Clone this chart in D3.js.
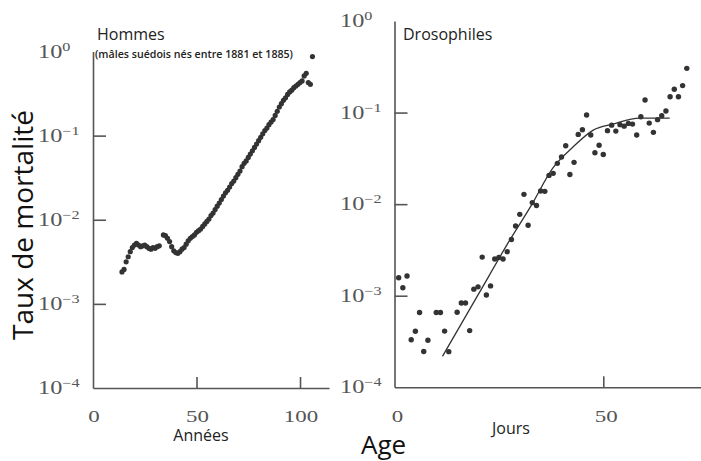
<!DOCTYPE html>
<html>
<head>
<meta charset="utf-8">
<script src="https://cdn.jsdelivr.net/npm/d3@7"></script>
<style>
  body { margin: 0; background: #fff; }
  text { font-family: "Open Sans", "Noto Sans", sans-serif; }
  .num { font-family: "Liberation Serif", "DejaVu Serif", serif; fill: #555; }
</style>
</head>
<body>
<script>
const WIDTH = 701;
const HEIGHT = 461;

// Hommes : âge (années) et taux de mortalité
const hommesAge = [14, 15, 16, 17, 18, 19, 20, 21, 22, 23, 24, 25, 26, 27, 28, 29, 30, 31, 32,
  34, 35, 36, 37, 38, 39, 40, 41, 42, 43, 44, 45, 46, 47, 48, 49, 50, 51, 52, 53, 54, 55,
  56, 57, 58, 59, 60, 61, 62, 63, 64, 65, 66, 67, 68, 69, 70, 71, 72, 73, 74, 75, 76, 77,
  78, 79, 80, 81, 82, 83, 84, 85, 86, 87, 88, 89, 90, 91, 92, 93, 94, 95, 96, 97, 98, 99,
  100, 101, 102, 103, 104, 105, 106];
const hommesTaux = [0.00240, 0.00257, 0.00316, 0.00363, 0.00417, 0.00468, 0.00501, 0.00525,
  0.00501, 0.00479, 0.00490, 0.00501, 0.00479, 0.00457, 0.00447, 0.00468, 0.00457, 0.00479,
  0.00490, 0.00661, 0.00646, 0.00603, 0.00550, 0.00479, 0.00427, 0.00407, 0.00398, 0.00417,
  0.00447, 0.00468, 0.00513, 0.00562, 0.00603, 0.00631, 0.00661, 0.00708, 0.00741, 0.00776,
  0.00832, 0.00891, 0.00955, 0.0102, 0.0112, 0.0120, 0.0132, 0.0145, 0.0158, 0.0174, 0.0191,
  0.0209, 0.0224, 0.0245, 0.0269, 0.0288, 0.0316, 0.0347, 0.0380, 0.0427, 0.0468, 0.0501,
  0.0550, 0.0603, 0.0661, 0.0724, 0.0794, 0.0871, 0.0955, 0.105, 0.115, 0.123, 0.135, 0.145,
  0.155, 0.174, 0.195, 0.219, 0.240, 0.263, 0.282, 0.309, 0.331, 0.347, 0.372, 0.389, 0.407,
  0.427, 0.447, 0.513, 0.550, 0.427, 0.407, 0.871];

// Drosophiles : âge (jours) et taux de mortalité
const drosoAge = [1, 2, 3, 4, 5, 6, 7, 8, 10, 11, 12, 13, 15, 16, 17, 18, 19, 20, 21, 22, 23,
  24, 25, 26, 27, 28, 29, 30, 31, 32, 33, 34, 35, 36, 37, 38, 39, 40, 41, 42, 43, 44, 45, 46,
  47, 48, 49, 50, 51, 52, 53, 54, 55, 56, 57, 58, 59, 60, 61, 62, 63, 64, 65, 66, 67, 68, 69, 70];
const drosoTaux = [1.57e-3, 1.22e-3, 1.64e-3, 3.30e-4, 4.09e-4, 6.55e-4, 2.46e-4, 3.27e-4,
  6.55e-4, 6.55e-4, 4.11e-4, 2.45e-4, 6.60e-4, 8.34e-4, 8.34e-4, 4.16e-4, 1.18e-3, 1.25e-3,
  2.64e-3, 1.02e-3, 1.28e-3, 2.52e-3, 2.61e-3, 2.52e-3, 3.03e-3, 4.11e-3, 5.78e-3, 7.74e-3,
  1.28e-2, 5.89e-3, 1.04e-2, 9.68e-3, 1.39e-2, 1.38e-2, 2.06e-2, 2.17e-2, 2.79e-2, 3.27e-2,
  4.34e-2, 2.11e-2, 2.86e-2, 5.78e-2, 6.49e-2, 9.40e-2, 5.68e-2, 3.64e-2, 4.40e-2, 3.49e-2,
  6.35e-2, 7.29e-2, 6.28e-2, 7.38e-2, 7.11e-2, 7.62e-2, 7.48e-2, 5.68e-2, 8.99e-2, 0.137,
  7.67e-2, 6.08e-2, 8.37e-2, 9.23e-2, 0.104, 0.149, 0.180, 0.149, 0.197, 0.304];

// courbe ajustée (drosophiles)
const ajustAge  = [11.5, 20, 27.6, 32.8, 37.9, 42.8, 47.6, 52.3, 58.7, 65.9];
const ajustTaux = [2.18e-4, 1.02e-3, 4.04e-3, 9.75e-3, 2.47e-2, 4.23e-2, 6.44e-2, 7.48e-2, 8.7e-2, 8.7e-2];

const yTicks = [1, 0.1, 0.01, 0.001, 0.0001];
const yExp = ["0", "\u22121", "\u22122", "\u22123", "\u22124"];
const xTicksH = [0, 50, 100];
const xTicksD = [0, 50];

const svg = d3.select('body').append('svg')
  .attr('width', WIDTH)
  .attr('height', HEIGHT);

const axisColor = '#555';
const dotColor = '#333';

// ---- panneau gauche : Hommes
const xL = d3.scaleLinear().domain([0, 114]).range([93, 329]);
const yL = d3.scaleLog().domain([1e-4, 1]).range([388, 51.5]);

// ---- panneau droit : Drosophiles
const xR = d3.scaleLinear().domain([0, 73.4]).range([394.5, 701]);
const yR = d3.scaleLog().domain([1e-4, 1]).range([387.3, 21]);

function drawAxes(x, y, xTicksDrawn, yTicksDrawn, labelX) {
  let gx = svg.append('g')
    .attr('transform', `translate(0,${y.range()[0]})`)
    .call(d3.axisBottom(x).tickValues(xTicksDrawn).tickSizeInner(-11).tickSizeOuter(0).tickFormat(''));
  let gy = svg.append('g')
    .attr('transform', `translate(${x.range()[0]},0)`)
    .call(d3.axisRight(y).tickValues(yTicksDrawn).tickSizeInner(13).tickSizeOuter(0).tickFormat(''));
  [gx, gy].forEach(g => {
    g.selectAll('path, line').attr('stroke', axisColor).attr('stroke-width', 1.6);
  });

  // étiquettes 10^n (serif, étirées horizontalement comme l'original)
  yTicks.forEach((v, i) => {
    let t = svg.append('text')
      .attr('class', 'num')
      .attr('transform', `translate(${labelX},${y(v) + 6}) scale(1.35,1)`)
      .style('font-size', '18px');
    t.append('tspan').text('10');
    t.append('tspan').attr('dy', -7).style('font-size', '12px').text(yExp[i]);
  });
}

drawAxes(xL, yL, [50, 100], [0.1, 0.01, 0.001], 38);
drawAxes(xR, yR, [50], [0.1, 0.01, 0.001], 340);

// étiquettes de l'axe x
xTicksH.forEach(v => {
  svg.append('text').attr('class', 'num')
    .attr('transform', `translate(${xL(v) + 1},422) scale(1.35,1)`)
    .attr('text-anchor', 'middle').style('font-size', '17px').text(v);
});
xTicksD.forEach(v => {
  svg.append('text').attr('class', 'num')
    .attr('transform', `translate(${xR(v) + 3},422) scale(1.35,1)`)
    .attr('text-anchor', 'middle').style('font-size', '17px').text(v);
});

// points
svg.append('g').selectAll('circle')
  .data(hommesAge)
  .join('circle')
  .attr('cx', (d, i) => xL(d))
  .attr('cy', (d, i) => yL(hommesTaux[i]))
  .attr('r', 2.6)
  .style('fill', dotColor);

svg.append('g').selectAll('circle')
  .data(drosoAge)
  .join('circle')
  .attr('cx', (d, i) => xR(d))
  .attr('cy', (d, i) => yR(drosoTaux[i]))
  .attr('r', 2.7)
  .style('fill', dotColor);

let ligne = d3.line()
  .x((d, i) => xR(d))
  .y((d, i) => yR(ajustTaux[i]))
  .curve(d3.curveMonotoneX);

svg.append('path')
  .attr('d', ligne(ajustAge))
  .attr('fill', 'none')
  .attr('stroke', '#333')
  .attr('stroke-width', 1.3);

// titres
svg.append('text').attr('x', 97).attr('y', 40)
  .style('font-size', '16px').style('fill', '#222').text('Hommes');
svg.append('text').attr('x', 95).attr('y', 58)
  .attr('textLength', 198).attr('lengthAdjust', 'spacingAndGlyphs')
  .style('font-size', '10px').style('font-weight', 600).style('fill', '#222')
  .text('(mâles suédois nés entre 1881 et 1885)');
svg.append('text').attr('x', 403).attr('y', 40)
  .style('font-size', '16px').style('fill', '#222').text('Drosophiles');

svg.append('text').attr('x', 201).attr('y', 441).attr('text-anchor', 'middle')
  .style('font-size', '16px').style('fill', '#222').text('Années');
svg.append('text').attr('x', 511).attr('y', 434).attr('text-anchor', 'middle')
  .style('font-size', '16px').style('fill', '#222').text('Jours');

svg.append('text').attr('x', 361).attr('y', 454)
  .style('font-size', '26px').style('fill', '#111').text('Age');
svg.append('text')
  .attr('transform', 'translate(33,225) rotate(-90)')
  .attr('text-anchor', 'middle')
  .style('font-size', '28px').style('fill', '#111')
  .text('Taux de mortalité');
</script>
</body>
</html>
